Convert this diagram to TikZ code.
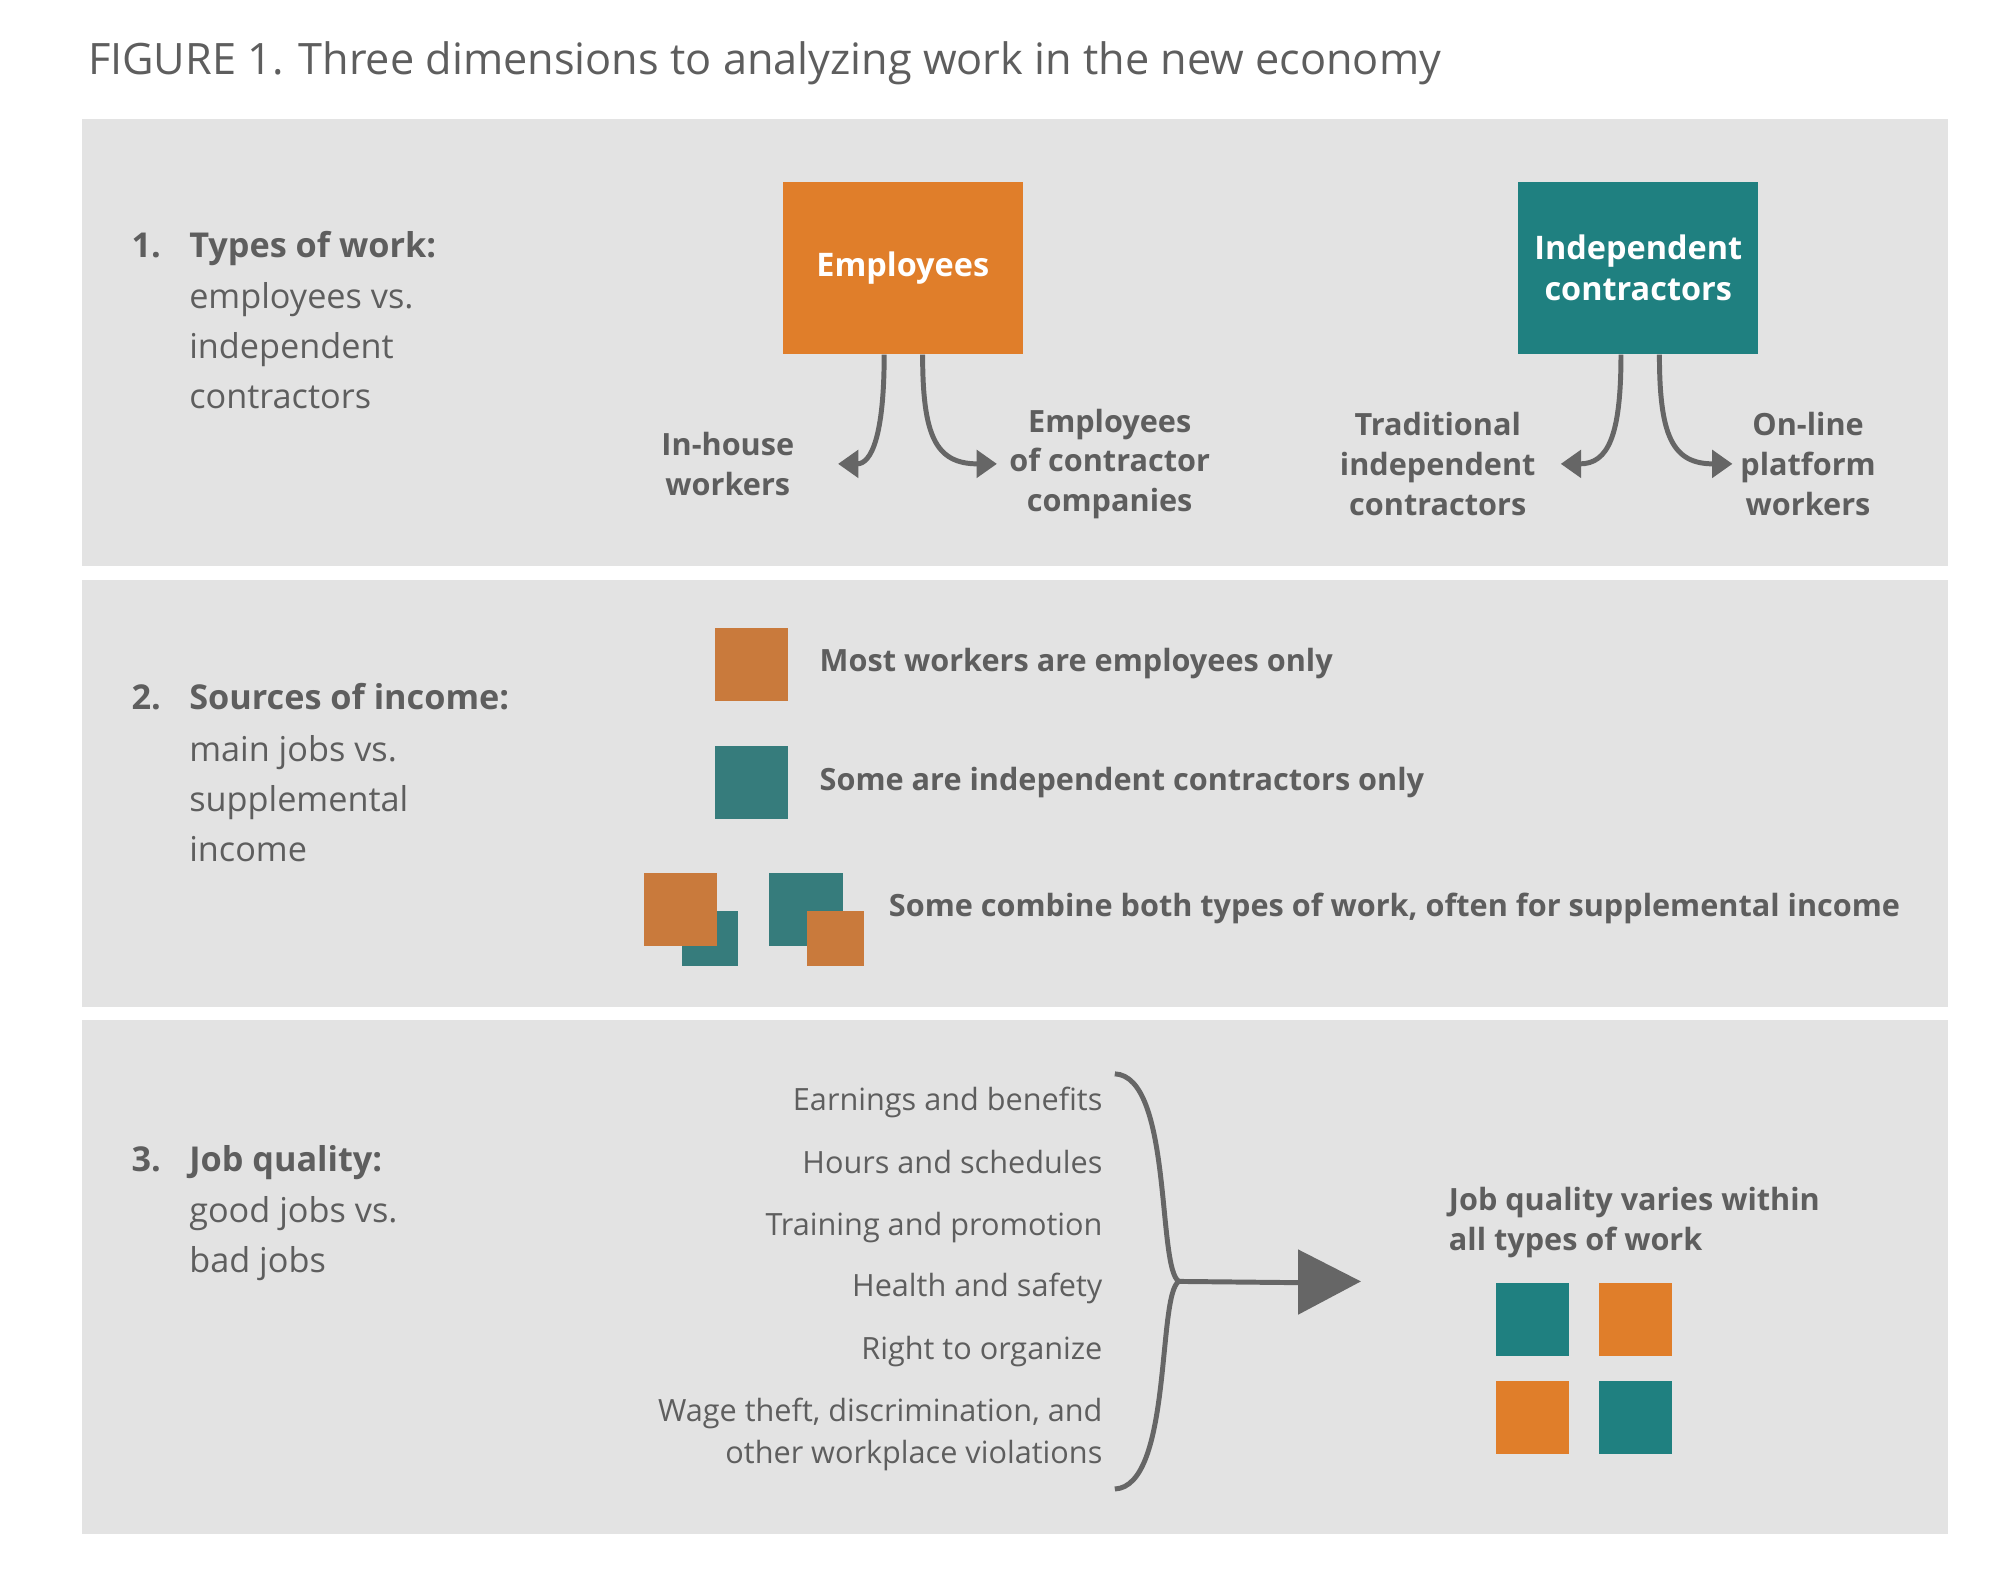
\documentclass[tikz,border=0pt]{standalone}
\usepackage{fontspec}
\setmainfont{Open Sans}
\usetikzlibrary{arrows.meta}
\definecolor{txt}{HTML}{5E5E5E}
\definecolor{panel}{HTML}{E3E3E3}
\definecolor{org}{HTML}{E07E2A}
\definecolor{teal}{HTML}{1F8080}
\definecolor{orgm}{HTML}{C97A3C}
\definecolor{tealm}{HTML}{367C7C}
\definecolor{arr}{HTML}{666666}
\begin{document}
\begin{tikzpicture}[x=0.01cm,y=-0.01cm,
  pnl/.style={fill=panel,draw=none},
  lbl/.style={text=txt,font=\fontsize{7.6}{10.6}\selectfont,anchor=base west,inner sep=0},
  bt/.style={text=txt,font=\fontsize{6.8}{8.8}\selectfont\bfseries,align=center,inner sep=0},
  lt/.style={text=txt,font=\fontsize{6.8}{8.8}\selectfont,anchor=base east,inner sep=0},
  sq/.style={draw=none,minimum width=0.57cm,minimum height=0.57cm,inner sep=0},
  bigbox/.style={draw=none,minimum width=1.87cm,minimum height=1.34cm,inner sep=0,text=white,font=\fontsize{7.2}{9.2}\selectfont\bfseries,align=center},
  con/.style={draw=arr,line width=1.1pt,-{Triangle[length=4.5pt,width=6pt]}}]
\useasboundingbox (0,0) rectangle (1560,1239);
\fill[white] (0,0) rectangle (1560,1239);
\node[anchor=base west,inner sep=0,text=txt,font=\fontsize{9.6}{12}\selectfont] (title) at (68,58) {FIGURE 1. Three dimensions to analyzing work in the new economy};
\fill[panel] (64,93) rectangle (1520,442);
\fill[panel] (64,453) rectangle (1520,786);
\fill[panel] (64,796) rectangle (1520,1197);
% panel 1
\node[lbl,font=\fontsize{7.6}{10.6}\selectfont\bfseries] (n1) at (102,201) {1.};
\node[lbl,font=\fontsize{7.6}{10.6}\selectfont\bfseries] (h1) at (147,201) {Types of work:};
\node[lbl] (h1a) at (147,241) {employees vs.};
\node[lbl] (h1b) at (147,280) {independent};
\node[lbl] (h1c) at (147,319) {contractors};
\node[bigbox,fill=org] (emp) at (704.5,209) {Employees};
\node[bigbox,fill=teal] (ind) at (1278.5,209) {Independent\\contractors};
\node[bt] (inh) at (568,362) {In-house\\workers};
\node[bt] (ecc) at (866,362) {Employees\\of contractor\\companies};
\node[bt] (tic) at (1122,362) {Traditional\\independent\\contractors};
\node[bt] (opw) at (1411,362) {On-line\\platform\\workers};
\draw[con] (emp.south -| 690,0) .. controls (690,340) and (680,362) .. (inh.east -| 654,0);
\draw[con] (emp.south -| 720,0) .. controls (720,340) and (730,362) .. (ecc.west -| 778,0);
\draw[con] (ind.south -| 1265,0) .. controls (1265,340) and (1255,362) .. (tic.east -| 1218,0);
\draw[con] (ind.south -| 1295,0) .. controls (1295,340) and (1305,362) .. (opw.west -| 1352,0);
% panel 2
\node[lbl,font=\fontsize{7.6}{10.6}\selectfont\bfseries] (n2) at (102,554) {2.};
\node[lbl,font=\fontsize{7.6}{10.6}\selectfont\bfseries] (h2) at (147,554) {Sources of income:};
\node[lbl] (h2a) at (147,594) {main jobs vs.};
\node[lbl] (h2b) at (147,633) {supplemental};
\node[lbl] (h2c) at (147,672) {income};
\node[sq,fill=orgm] (s1) at (586.5,518.5) {};
\node[sq,fill=tealm] (s2) at (586.5,611) {};
\node[bt,anchor=west] (t1) at (639,518) {Most workers are employees only};
\node[bt,anchor=west] (t2) at (639,611) {Some are independent contractors only};
\node[draw=none,fill=tealm,minimum width=0.44cm,minimum height=0.43cm,inner sep=0] (c1b) at (554,732.5) {};
\node[sq,fill=orgm] (c1a) at (531,710) {};
\node[sq,fill=tealm] (c2a) at (629,710) {};
\node[draw=none,fill=orgm,minimum width=0.44cm,minimum height=0.43cm,inner sep=0] (c2b) at (652,732.5) {};
\node[bt,anchor=west] (t3) at (693,709) {Some combine both types of work, often for supplemental income};
% panel 3
\node[lbl,font=\fontsize{7.6}{10.6}\selectfont\bfseries] (n3) at (102,914) {3.};
\node[lbl,font=\fontsize{7.6}{10.6}\selectfont\bfseries] (h3) at (147,914) {Job quality:};
\node[lbl] (h3a) at (147,954) {good jobs vs.};
\node[lbl] (h3b) at (147,993) {bad jobs};
\node[lt] (q1) at (861,867) {Earnings and benefits};
\node[lt] (q2) at (861,916) {Hours and schedules};
\node[lt] (q3) at (861,964) {Training and promotion};
\node[lt] (q4) at (861,1012) {Health and safety};
\node[lt] (q5) at (861,1061) {Right to organize};
\node[lt] (q6) at (861,1109) {Wage theft, discrimination, and};
\node[lt] (q7) at (861,1142) {other workplace violations};
\coordinate (bt) at (870,838);
\coordinate (bm) at (920,1000);
\coordinate (bb) at (870,1162);
\draw[arr,line width=1.1pt] (bt) .. controls (915,840) and (903,990) .. (bm) .. controls (903,1010) and (915,1160) .. (bb);
\coordinate (tip) at (1062,1000);
\draw[arr,line width=1.1pt] (bm) -- (1016,1001);
\fill[arr] (1013,975) -- (tip) -- (1013,1026) -- cycle;
\node[bt,align=left,anchor=north west] (jq) at (1130,926) {Job quality varies within\\all types of work};
\node[sq,fill=teal] (g1) at (1196,1030) {};
\node[sq,fill=org] (g2) at (1276.5,1030) {};
\node[sq,fill=org] (g3) at (1196,1106) {};
\node[sq,fill=teal] (g4) at (1276.5,1106) {};
\end{tikzpicture}
\end{document}
